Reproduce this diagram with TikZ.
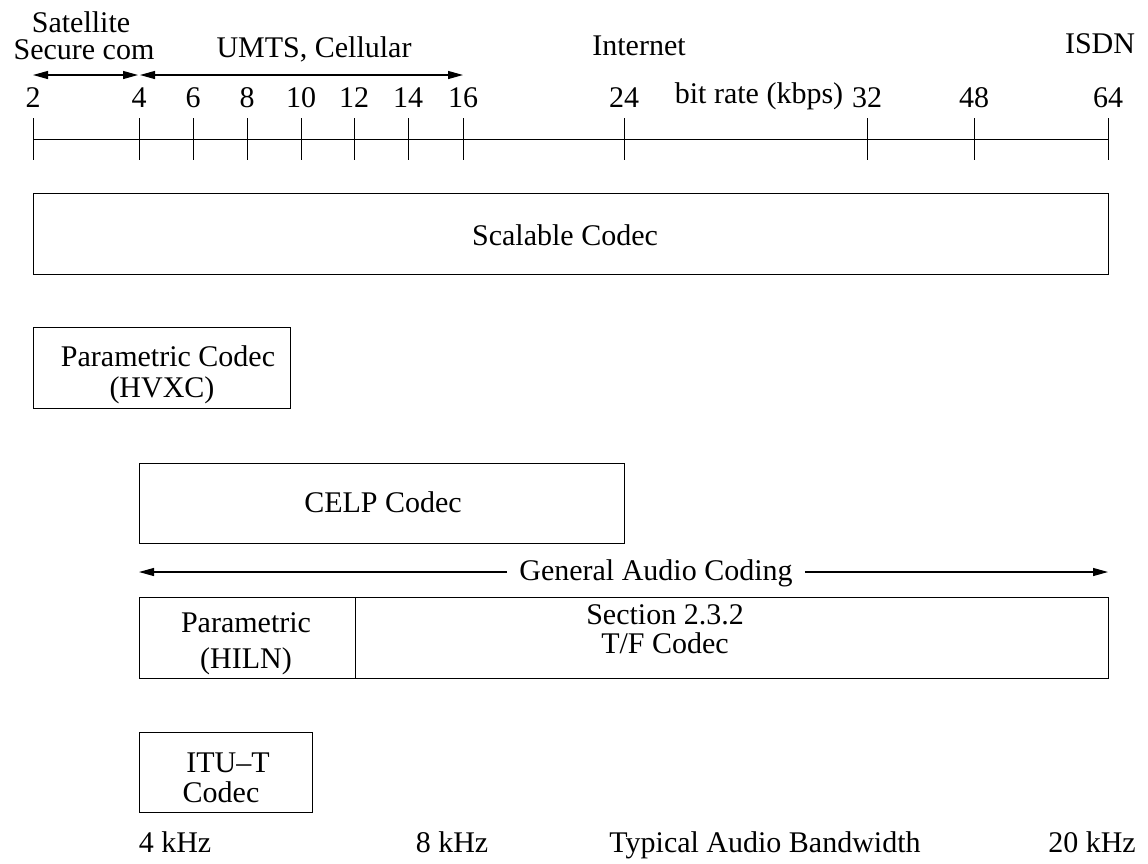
\documentclass[tikz,border=0pt]{standalone}
\usepackage{fontspec}
\setmainfont{Liberation Serif}
\usetikzlibrary{arrows.meta}
\begin{document}
\begin{tikzpicture}[x=1pt,y=-1pt,
  every node/.style={font=\fontsize{30}{30}\selectfont, inner sep=0pt},
  lbl/.style={anchor=base},
  boxshape/.style={draw, line width=1.2pt, anchor=north west, minimum width=#1},
  tick/.style={line width=1pt},
  dbl/.style={line width=1.2pt, {Triangle[length=15pt,width=8pt]}-{Triangle[length=15pt,width=8pt]}},
  sgl/.style={line width=1.2pt, -{Triangle[length=15pt,width=8pt]}}]
\useasboundingbox (0,0) rectangle (1148,863);
% axis
\coordinate (a0) at (33,139);
\coordinate (a1) at (1108,139);
\draw[tick] (a0) -- (a1);
\foreach \x/\t in {33/2,139/4,193/6,247/8,301/10,354/12,408/14,463/16,624/24,867/32,974/48,1108/64}{
  \coordinate (t\t a) at (\x,118);
  \coordinate (t\t b) at (\x,160);
  \draw[tick] (t\t a) -- (t\t b);
  \node[lbl] (n\t) at (\x,107) {\t};
}
\node[lbl] (br) at (759,103) {bit rate (kbps)};
% top labels
\node[lbl] (sat) at (81,32) {Satellite};
\node[lbl] (sec) at (84,59) {Secure com};
\node[lbl] (umts) at (314,57) {UMTS, Cellular};
\node[lbl] (inet) at (639,55) {Internet};
\node[lbl] (isdn) at (1100,53) {ISDN};
\coordinate (s0) at (33,75);
\coordinate (s1) at (138,75);
\coordinate (u0) at (140,75);
\coordinate (u1) at (463,75);
\draw[dbl] (s0) -- (s1);
\draw[dbl] (u0) -- (u1);
% Scalable
\node[boxshape=1075pt, minimum height=81pt] (scal) at (33,193) {};
\node[lbl] (scalt) at (565,245) {Scalable Codec};
% Parametric HVXC
\node[boxshape=257pt, minimum height=81pt] (hvxc) at (33,327) {};
\node[lbl] (hv1) at (168,366) {Parametric Codec};
\node[lbl] (hv2) at (162,397) {(HVXC)};
% CELP
\node[boxshape=485pt, minimum height=80pt] (celp) at (139,463) {};
\node[lbl] (celpt) at (383,512) {CELP Codec};
% General Audio Coding
\coordinate (gl) at (139,572);
\coordinate (gr) at (1108,572);
\node[lbl, inner xsep=12pt] (gac) at (656,580) {General Audio Coding};
\draw[sgl] (gac.west |- gl) -- (gl);
\draw[sgl] (gac.east |- gr) -- (gr);
% Parametric HILN / TF
\node[boxshape=216pt, minimum height=81pt] (hiln) at (139,597) {};
\node[boxshape=753pt, minimum height=81pt] (tf) at (355,597) {};
\node[lbl] (hi1) at (246,632) {Parametric};
\node[lbl] (hi2) at (246,668) {(HILN)};
\node[lbl] (tf1) at (665,624) {Section 2.3.2};
\node[lbl] (tf2) at (665,653) {T/F Codec};
% ITU-T
\node[boxshape=173pt, minimum height=80pt] (itu) at (139,732) {};
\node[lbl] (itu1) at (228,772) {ITU\textendash T};
\node[lbl] (itu2) at (221,802) {Codec};
% bottom
\node[lbl] (k4) at (175,852) {4 kHz};
\node[lbl] (k8) at (452,852) {8 kHz};
\node[lbl] (tab) at (765,852) {Typical Audio Bandwidth};
\node[lbl] (k20) at (1092,852) {20 kHz};
\end{tikzpicture}
\end{document}
